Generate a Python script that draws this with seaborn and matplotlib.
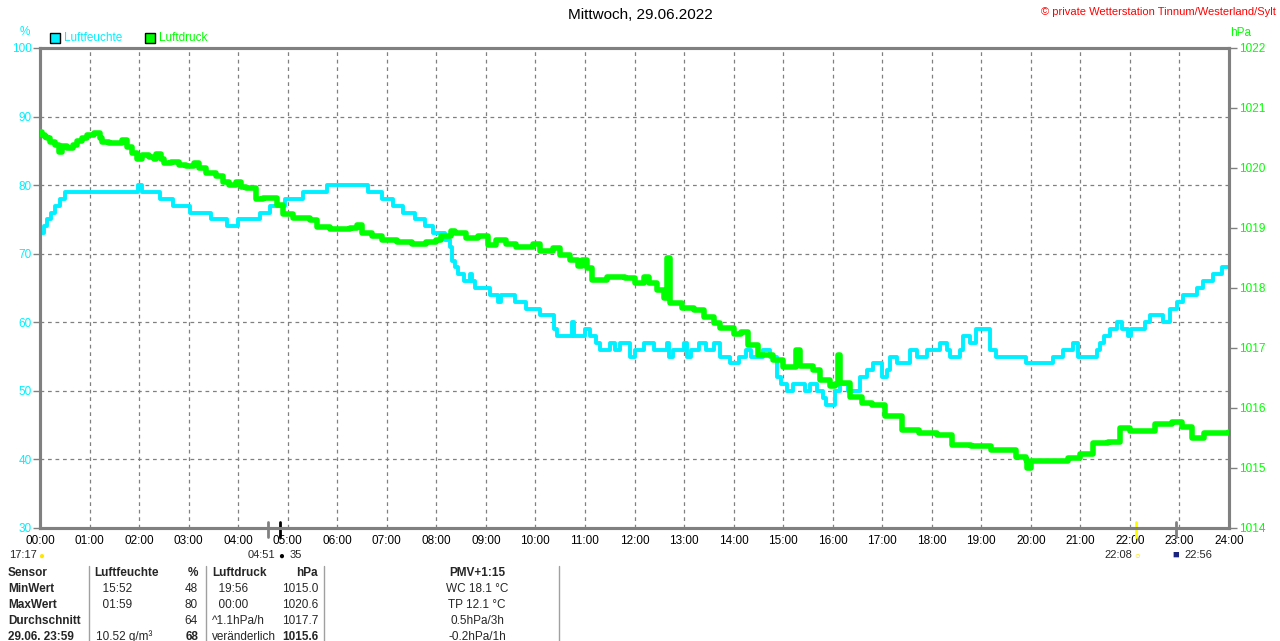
import numpy as np
import pandas as pd
import matplotlib
matplotlib.use("Agg")
import matplotlib.pyplot as plt
import seaborn as sns

# -----------------------------
# Daten
# -----------------------------
hum_hours = [0.0, 0.08, 0.15, 0.22, 0.3, 0.4, 0.5, 1.98, 2.05, 2.42, 2.69, 3.03, 3.46, 3.77, 4.0,
             4.44, 4.64, 4.95, 5.31, 5.8, 6.62, 6.9, 7.13, 7.33, 7.57, 7.77, 7.93, 8.17, 8.28, 8.32,
             8.38, 8.44, 8.55, 8.68, 8.72, 8.78, 9.08, 9.25, 9.3, 9.59, 9.82, 10.0, 10.1, 10.33, 10.38,
             10.43, 10.6, 10.73, 10.78, 11.0, 11.1, 11.23, 11.3, 11.5, 11.6, 11.7, 11.9, 12.0, 12.2,
             12.4, 12.65, 12.7, 12.78, 13.0, 13.05, 13.15, 13.3, 13.45, 13.6, 13.73, 13.93, 14.1,
             14.26, 14.35, 14.6, 14.74, 14.87, 14.95, 15.07, 15.2, 15.45, 15.55, 15.68, 15.8, 15.87,
             16.05, 16.15, 16.3, 16.55, 16.7, 16.82, 16.99, 17.1, 17.16, 17.3, 17.56, 17.7, 17.9,
             18.17, 18.3, 18.37, 18.57, 18.63, 18.77, 18.9, 19.18, 19.3, 19.9, 20.45, 20.65, 20.85,
             20.96, 21.33, 21.4, 21.47, 21.6, 21.73, 21.85, 21.96, 22.03, 22.3, 22.4, 22.67, 22.81,
             22.95, 23.07, 23.35, 23.48, 23.68, 23.85, 24.0]
hum_values = [73, 74, 75, 76, 77, 78, 79, 80, 79, 78, 77, 76, 75, 74, 75,
              76, 77, 78, 79, 80, 79, 78, 77, 76, 75, 74, 73, 72, 71, 69,
              68, 67, 66, 67, 66, 65, 64, 63, 64, 63, 62, 62, 61, 61, 59,
              58, 58, 60, 58, 59, 58, 57, 56, 57, 56, 57, 55, 56, 57,
              56, 57, 55, 56, 57, 55, 56, 57, 56, 57, 55, 54, 55,
              56, 55, 56, 55, 52, 51, 50, 51, 50, 51, 50, 49, 48,
              50, 51, 50, 52, 53, 54, 52, 53, 55, 54, 56, 55, 56,
              57, 56, 55, 56, 58, 57, 59, 56, 55, 54, 55, 56, 57,
              55, 56, 57, 58, 59, 60, 59, 58, 59, 60, 61, 60, 62,
              63, 64, 65, 66, 67, 68, 68]

press_hours = [0.0, 0.05, 0.1, 0.15, 0.2, 0.3, 0.38, 0.45, 0.55, 0.66, 0.75, 0.85, 0.95, 1.1, 1.22,
               1.25, 1.4, 1.6, 1.65, 1.75, 1.85, 1.95, 2.05, 2.2, 2.3, 2.35, 2.45, 2.5, 2.65, 2.8,
               2.95, 3.1, 3.2, 3.35, 3.55, 3.7, 3.82, 3.95, 4.05, 4.15, 4.35, 4.5, 4.78, 4.9, 5.1,
               5.45, 5.6, 5.85, 6.25, 6.4, 6.5, 6.7, 6.9, 7.2, 7.5, 7.8, 8.0, 8.1, 8.3, 8.38, 8.6,
               8.85, 9.05, 9.2, 9.4, 9.6, 9.95, 10.1, 10.35, 10.5, 10.7, 10.85, 10.94, 11.05, 11.15,
               11.45, 11.8, 12.0, 12.2, 12.3, 12.45, 12.6, 12.66, 12.72, 12.95, 13.2, 13.4, 13.6,
               13.73, 14.0, 14.15, 14.3, 14.5, 14.8, 15.0, 15.25, 15.35, 15.6, 15.75, 15.95, 16.05,
               16.1, 16.14, 16.35, 16.6, 16.8, 17.05, 17.4, 17.75, 18.1, 18.4, 18.8, 19.2, 19.5,
               19.7, 19.9, 19.93, 20.0, 20.5, 20.75, 21.0, 21.25, 21.55, 21.8, 22.0, 22.3, 22.5,
               22.85, 23.05, 23.25, 23.5, 24.0]
press_values = [1020.6, 1020.55, 1020.52, 1020.5, 1020.44, 1020.38, 1020.27, 1020.36, 1020.33, 1020.38,
                1020.45, 1020.5, 1020.55, 1020.58, 1020.5, 1020.44, 1020.41, 1020.41, 1020.46, 1020.35,
                1020.25, 1020.15, 1020.22, 1020.19, 1020.15, 1020.24, 1020.15, 1020.08, 1020.1, 1020.05,
                1020.04, 1020.08, 1020.0, 1019.91, 1019.86, 1019.76, 1019.72, 1019.77, 1019.69, 1019.66,
                1019.48, 1019.5, 1019.38, 1019.24, 1019.16, 1019.13, 1019.02, 1018.98, 1019.0, 1019.05,
                1018.91, 1018.86, 1018.8, 1018.76, 1018.74, 1018.76, 1018.8, 1018.86, 1018.95, 1018.92,
                1018.83, 1018.86, 1018.72, 1018.8, 1018.74, 1018.68, 1018.74, 1018.61, 1018.66, 1018.55,
                1018.47, 1018.36, 1018.47, 1018.33, 1018.13, 1018.19, 1018.16, 1018.08, 1018.19, 1018.08,
                1017.97, 1017.83, 1018.5, 1017.75, 1017.66, 1017.63, 1017.52, 1017.41, 1017.33, 1017.24,
                1017.27, 1017.05, 1016.88, 1016.8, 1016.69, 1016.97, 1016.7, 1016.63, 1016.47, 1016.36,
                1016.4, 1016.88, 1016.41, 1016.19, 1016.08, 1016.05, 1015.86, 1015.63, 1015.58, 1015.55,
                1015.38, 1015.36, 1015.3, 1015.3, 1015.19, 1015.13, 1015.0, 1015.12, 1015.11, 1015.16,
                1015.24, 1015.41, 1015.44, 1015.66, 1015.61, 1015.61, 1015.74, 1015.77, 1015.69, 1015.5,
                1015.58, 1015.6]

hour_ticks = list(range(0, 25))
hour_labels = [f"{h:02d}:00" for h in hour_ticks]
hum_ticks = [30, 40, 50, 60, 70, 80, 90, 100]
press_ticks = [1014, 1015, 1016, 1017, 1018, 1019, 1020, 1021, 1022]

# Sonne/Mond Ereignisse
event_hours = [4.6, 4.85, 22.13, 22.93]
event_colors = ["#808080", "#000000", "#FFFF00", "#808080"]

# Tabelle
table_rows = [
    ["Sensor", "Luftfeuchte", "%", "Luftdruck", "hPa", "PMV+1:15"],
    ["MinWert", "  15:52", "48", "  19:56", "1015.0", "WC 18.1 °C"],
    ["MaxWert", "  01:59", "80", "  00:00", "1020.6", "TP 12.1 °C"],
    ["Durchschnitt", "", "64", "^1.1hPa/h", "1017.7", "0.5hPa/3h"],
    ["29.06. 23:59", "10.52 g/m³", "68", "veränderlich", "1015.6", "-0.2hPa/1h"],
]

TITLE = "Mittwoch, 29.06.2022"
COPYRIGHT = "© private Wetterstation Tinnum/Westerland/Sylt"

CYAN = "#00F0FF"
GREEN = "#00FF00"
GRAY = "#808080"

# -----------------------------
# Stil
# -----------------------------
sns.set_style("white")
plt.rcParams["font.family"] = ["Liberation Sans", "DejaVu Sans"]
plt.rcParams["font.size"] = 8.5

W, H = 1280, 641
fig = plt.figure(figsize=(W / 100, H / 100), dpi=100)
fig.patch.set_facecolor("white")


def fx(x):
    return x / W


def fy(y):
    return 1 - y / H


ax = fig.add_axes([fx(40), fy(528), fx(1229) - fx(40), fy(48) - fy(528)])
ax2 = ax.twinx()

hum_df = pd.DataFrame({"Stunde": hum_hours, "Luftfeuchte": hum_values})
press_df = pd.DataFrame({"Stunde": press_hours, "Luftdruck": press_values})

sns.lineplot(data=hum_df, x="Stunde", y="Luftfeuchte", ax=ax, color=CYAN,
             linewidth=2.8, drawstyle="steps-post", zorder=3)
sns.lineplot(data=press_df, x="Stunde", y="Luftdruck", ax=ax2, color=GREEN,
             linewidth=4.0, drawstyle="steps-post", zorder=4)

ax.set_xlim(0, 24)
ax.set_ylim(30, 100)
ax2.set_ylim(1014, 1022)

ax.set_xticks(hour_ticks)
ax.set_xticklabels(hour_labels, color="black", fontsize=8.5)
ax.set_yticks(hum_ticks)
ax.set_yticklabels([str(t) for t in hum_ticks], color=CYAN, fontsize=8.5)
ax2.set_yticks(press_ticks)
ax2.set_yticklabels([str(t) for t in press_ticks], color=GREEN, fontsize=8.5)

ax.tick_params(axis="x", length=0, pad=5)
ax.tick_params(axis="y", length=5, width=1, color=GRAY, pad=1, direction="out", left=True)
ax2.tick_params(axis="y", length=6, width=1, color=GRAY, pad=1, direction="out", right=True)
ax.set_xlabel("")
ax.set_ylabel("")
ax2.set_ylabel("")

ax.grid(True, color=GRAY, linestyle=(0, (3, 3)), linewidth=0.9)
ax2.grid(False)
ax.set_axisbelow(True)

for a in (ax, ax2):
    for side in a.spines.values():
        side.set_color(GRAY)
        side.set_linewidth(2.2)

# Ereignis-Markierungen an der x-Achse
for h, c in zip(event_hours, event_colors):
    ax.plot([h, h], [-0.018, 0.012], color=c, linewidth=2.0,
            transform=ax.get_xaxis_transform(), clip_on=False, zorder=6)

# Titel und Beschriftungen
fig.text(fx(640), fy(15), TITLE, ha="center", va="center", fontsize=11, color="black")
fig.text(fx(1276), fy(12), COPYRIGHT, ha="right", va="center", fontsize=8, color="red")
fig.text(fx(20), fy(32), "%", ha="left", va="center", fontsize=8.5, color=CYAN)
fig.text(fx(1230), fy(33), "hPa", ha="left", va="center", fontsize=8.5, color=GREEN)

# Legende
for lx, col, label in [(50, CYAN, "Luftfeuchte"), (145, GREEN, "Luftdruck")]:
    fig.patches.append(plt.Rectangle((fx(lx), fy(43)), fx(10), fy(33) - fy(43),
                                     transform=fig.transFigure, facecolor=col,
                                     edgecolor="black", linewidth=1))
    fig.text(fx(lx + 14), fy(38), label, ha="left", va="center", fontsize=8.5, color=col)

# Sonne / Mond Zeiten
ev_y = fy(555)
fig.text(fx(9), ev_y, "17:17", ha="left", va="center", fontsize=8)
fig.text(fx(38), fy(556), "●", ha="left", va="center", fontsize=7, color="#FFE600")
fig.text(fx(275), ev_y, "04:51", ha="right", va="center", fontsize=8)
fig.text(fx(278), fy(556), "●", ha="left", va="center", fontsize=7, color="black")
fig.text(fx(290), ev_y, "35", ha="left", va="center", fontsize=8)
fig.text(fx(1132), ev_y, "22:08", ha="right", va="center", fontsize=8)
fig.text(fx(1134), fy(556), "○", ha="left", va="center", fontsize=7, color="#FFE600")
fig.text(fx(1172), fy(555), "■", ha="left", va="center", fontsize=8, color="#1A237E")
fig.text(fx(1184), ev_y, "22:56", ha="left", va="center", fontsize=8)

# Tabelle unten
row_y = [573, 589, 605, 621, 637]
for i, row in enumerate(table_rows):
    y = fy(row_y[i])
    bold = "bold" if i == 0 else "normal"
    fig.text(fx(8), y, row[0], ha="left", va="center", fontsize=8.5, fontweight="bold")
    fig.text(fx(94 if i == 0 else 96), y, row[1], ha="left", va="center", fontsize=8.5, fontweight=bold)
    fig.text(fx(198), y, row[2], ha="right", va="center", fontsize=8.5,
             fontweight="bold" if i in (0, 4) else "normal")
    fig.text(fx(212), y, row[3], ha="left", va="center", fontsize=8.5, fontweight=bold)
    fig.text(fx(318), y, row[4], ha="right", va="center", fontsize=8.5,
             fontweight="bold" if i in (0, 4) else "normal")
    fig.text(fx(477), y, row[5], ha="center", va="center", fontsize=8.5, fontweight=bold)

for sx in [89, 206, 324, 559]:
    fig.add_artist(plt.Line2D([fx(sx), fx(sx)], [fy(566), fy(641)], color="#A0A0A0",
                              linewidth=1, transform=fig.transFigure))

fig.savefig("out.png", dpi=100, facecolor="white")
